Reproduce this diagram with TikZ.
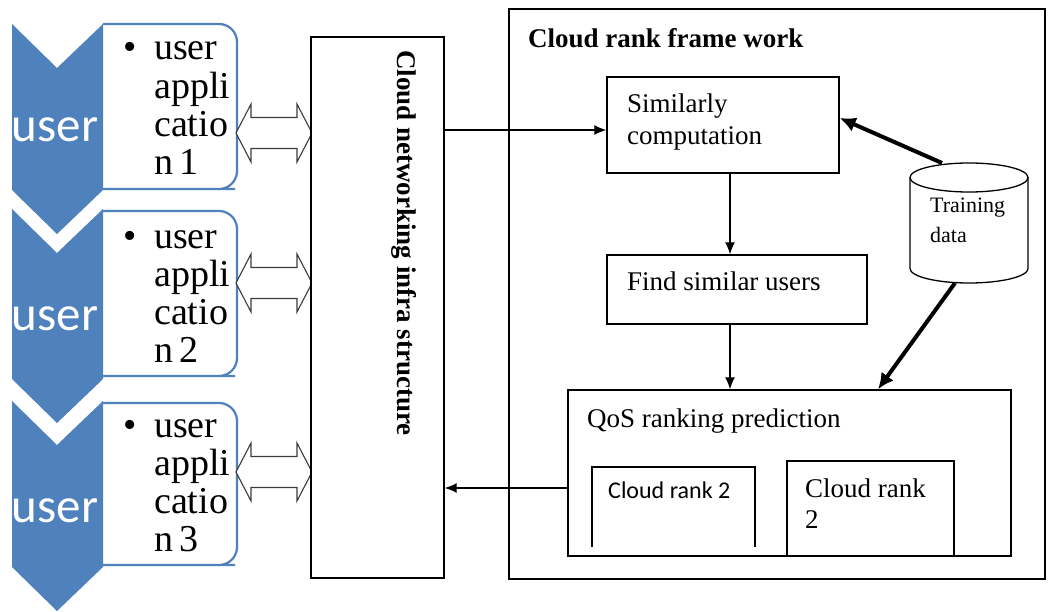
\documentclass[tikz,border=0pt]{standalone}
\usepackage{fontspec}
\setmainfont{Liberation Serif}
\newfontfamily\calib{Carlito}
\usetikzlibrary{arrows.meta}
\definecolor{chevblue}{RGB}{79,129,189}
\definecolor{arrowgray}{RGB}{60,60,60}
\tikzset{
  plainbox/.style={draw=black, line width=1.4pt, fill=white, inner sep=0pt},
  thinarr/.style={line width=1.3pt, -{Latex[length=12pt,width=10pt]}},
  thickarr/.style={line width=4pt, -{Latex[length=16pt,width=15pt]}},
  txt/.style={inner sep=0pt, anchor=base west, font=\fontsize{27}{32}\selectfont},
  apptxt/.style={inner sep=0pt, anchor=base west, font=\fontsize{38}{38}\selectfont},
  usertxt/.style={inner sep=0pt, anchor=base, text=white, font=\calib\fontsize{49}{49}\selectfont},
  appbox/.style={draw=chevblue, line width=2.2pt, fill=white},
  chevron/.style={fill=chevblue},
  blockarrow/.style={draw=arrowgray, line width=1.1pt, fill=white, line join=miter}
}
\begin{document}
\begin{tikzpicture}[x=1pt, y=-1pt]
\useasboundingbox[fill=white] (0,0) rectangle (1048,612);

% ---------------- user column: application boxes, then chevrons on top
\foreach \t/\b in {24/189, 211/376, 403/565}{
  \draw[appbox] (103,\t) -- (217,\t) [rounded corners=18pt] -- (237,\t) -- (237,\b) -- (217,\b) [sharp corners] -- (103,\b);
}
\foreach \t/\b in {24/190, 209/379, 401/567}{
  \fill[chevron] (12,\t) -- (57,\t+44) -- (103,\t) -- (103,\b) -- (57,\b+44) -- (12,\b) -- cycle;
}
\node[usertxt] (u1) at (55,142) {user};
\node[usertxt] (u2) at (55,330) {user};
\node[usertxt] (u3) at (55,522) {user};

% bullet texts of the three applications
\foreach \k/\y in {1/60, 2/248, 3/437}{
  \node[apptxt] (b\k) at (123,\y) {\textbullet};
  \node[apptxt] (a\k1) at (154,\y) {user};
  \node[apptxt] (a\k2) at (154,\y+38.3) {appli};
  \node[apptxt] (a\k3) at (154,\y+76.6) {catio};
  \node[apptxt] (a\k4) at (154,\y+114.9) {n\,\k};
}

% two-headed block arrows towards the network
\foreach \c in {133, 283, 472}{
  \draw[blockarrow] (236,\c) -- (251,\c-29) -- (251,\c-15.5) -- (297,\c-15.5) -- (297,\c-29)
     -- (312,\c) -- (297,\c+29) -- (297,\c+15.5) -- (251,\c+15.5) -- (251,\c+29) -- cycle;
}

% ---------------- network infrastructure
\node[plainbox, minimum width=133, minimum height=541] (cn) at (377.5,307.5) {};
\node[inner sep=0pt, anchor=base, rotate=-90, font=\bfseries\fontsize{27}{30}\selectfont] (cnt) at (397,243) {Cloud networking infra structure};

% ---------------- framework
\node[plainbox, minimum width=536, minimum height=570] (fw) at (777,294) {};
\node[txt, font=\bfseries\fontsize{27}{32}\selectfont] (fwt) at (528,48) {Cloud rank frame work};

\node[plainbox, minimum width=232, minimum height=96] (sim) at (723,125) {};
\node[txt] (simt1) at (627,113) {Similarly};
\node[txt] (simt2) at (627,145) {computation};

\node[plainbox, minimum width=260, minimum height=69] (find) at (737,289.5) {};
\node[txt] (findt) at (627,290) {Find similar users};

\node[plainbox, minimum width=443, minimum height=166] (qos) at (789.5,473) {};
\node[txt] (qost) at (587,427) {QoS ranking prediction};

% inner rank panels
\draw[line width=1.4pt] (592,547) -- (592,467) -- (755,467) -- (755,547);
\node[inner sep=0pt, anchor=base west, font=\calib\fontsize{24}{28}\selectfont] (cr1) at (608,498) {Cloud rank 2};
\draw[line width=1.4pt] (787,556) -- (787,461) -- (954,461) -- (954,556);
\node[txt] (cr2a) at (805,497) {Cloud rank};
\node[txt] (cr2b) at (805,528) {2};

% training data store
\draw[line width=1.3pt, fill=white] (910,177.5) -- (910,268.5)
   arc[start angle=180, end angle=360, x radius=59pt, y radius=14.5pt] -- (1028,177.5);
\draw[line width=1.3pt, fill=white] (969,177.5) ellipse[x radius=59pt, y radius=14.5pt];
\node[inner sep=0pt, anchor=base west, font=\fontsize{22}{26}\selectfont] (tdt1) at (930,213) {Training};
\node[inner sep=0pt, anchor=base west, font=\fontsize{22}{26}\selectfont] (tdt2) at (930,242) {data};
\coordinate (tdtop) at (942,163);
\coordinate (tdbot) at (955,283);

% ---------------- connectors
\draw[thinarr] (cn.east |- 0,130) -- (sim.west |- 0,130);
\draw[thinarr] (sim.south -| 730,0) -- (find.north -| 730,0);
\draw[thinarr] (find.south -| 730,0) -- (qos.north -| 730,0);
\draw[thinarr] (qos.west |- 0,488) -- (cn.east |- 0,488);
\draw[thickarr] (tdtop) -- (sim.east |- 0,118);
\draw[thickarr] (tdbot) -- (qos.north -| 878,0);
\end{tikzpicture}
\end{document}
